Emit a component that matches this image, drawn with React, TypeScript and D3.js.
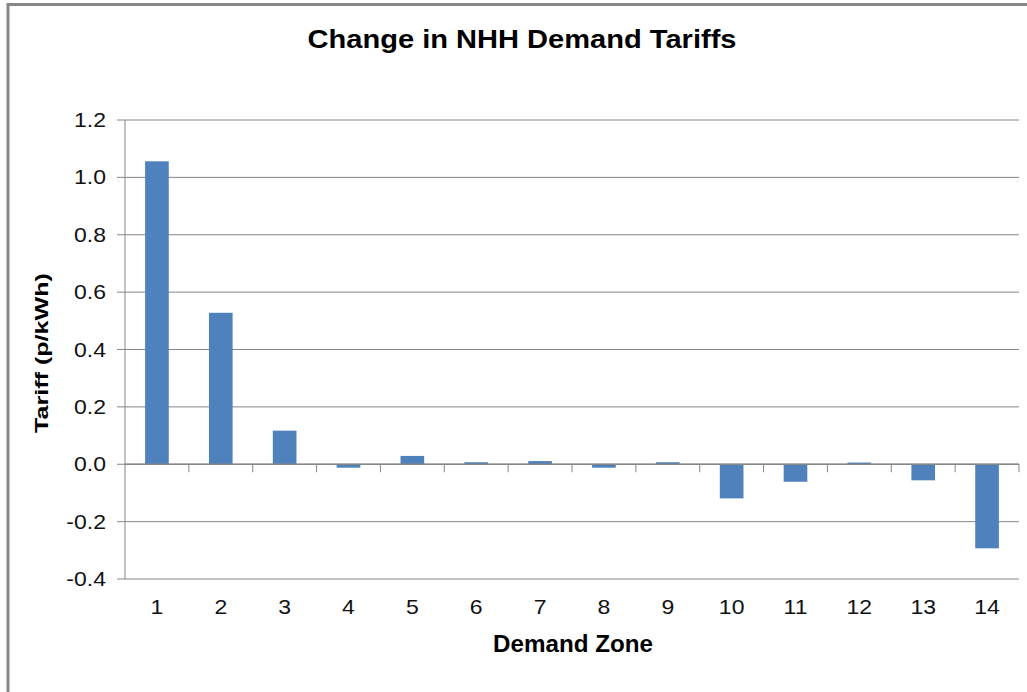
import { scaleBand, scaleLinear } from "d3";

const zones = ["1", "2", "3", "4", "5", "6", "7", "8", "9", "10", "11", "12", "13", "14"];
const tariffChange = [1.056, 0.528, 0.117, -0.012, 0.029, 0.007, 0.011, -0.012, 0.007, -0.119, -0.061, 0.006, -0.056, -0.293];
const yTicks = [-0.4, -0.2, 0.0, 0.2, 0.4, 0.6, 0.8, 1.0, 1.2];

const W = 1027;
const H = 692;
const GRID = "#868686";
const BAR = "#4F81BD";
const FONT = "'Liberation Sans', Arial, sans-serif";
const SX = 1.15; // the reference text is a little wider than plain Arial

export default function App() {
  const x = scaleBand<string>().domain(zones).range([125, 1019]);
  const y = scaleLinear().domain([-0.4, 1.2]).range([579, 120]);
  const band = x.bandwidth();
  const barW = band / 2.7;
  const y0 = y(0);

  return (
    <svg
      width={W}
      height={H}
      style={{ position: "fixed", left: 0, top: 0, background: "#fff" }}
      fontFamily={FONT}
    >
      <rect x={0} y={0} width={W} height={H} fill="#fff" />
      {/* outer chart border, only left and top show */}
      <path d={`M8,${H} L8,4.5 L${W},4.5`} fill="none" stroke="#878787" strokeWidth={3} />

      <text
        x={522}
        y={48}
        fontSize={25}
        fontWeight="bold"
        textAnchor="middle"
        textLength={429}
        lengthAdjust="spacingAndGlyphs"
      >
        Change in NHH Demand Tariffs
      </text>

      {/* gridlines */}
      {yTicks.map((t) => (
        <g key={t}>
          <line x1={117} x2={1019} y1={y(t)} y2={y(t)} stroke={GRID} strokeWidth={1} />
          <text
            transform={`translate(106,${y(t) + 7}) scale(${SX},1)`}
            fontSize={20}
            textAnchor="end"
            fill="#111"
          >
            {t.toFixed(1)}
          </text>
        </g>
      ))}
      <line x1={125} x2={125} y1={y(1.2)} y2={y(-0.4)} stroke={GRID} strokeWidth={1} />

      {/* bars */}
      {tariffChange.map((v, i) => {
        const cx = (x(zones[i]) ?? 0) + band / 2;
        return (
          <rect
            key={zones[i]}
            x={cx - barW / 2}
            y={Math.min(y(v), y0)}
            width={barW}
            height={Math.abs(y(v) - y0)}
            fill={BAR}
          />
        );
      })}

      {/* category axis at zero */}
      <line x1={125} x2={1019} y1={y0} y2={y0} stroke={GRID} strokeWidth={1.5} />
      {zones.map((z) => (
        <line
          key={"t" + z}
          x1={(x(z) ?? 0) + band}
          x2={(x(z) ?? 0) + band}
          y1={y0}
          y2={y0 + 8}
          stroke={GRID}
          strokeWidth={1}
        />
      ))}
      {zones.map((z) => (
        <text
          key={"l" + z}
          transform={`translate(${(x(z) ?? 0) + band / 2},614) scale(${SX},1)`}
          fontSize={20}
          textAnchor="middle"
          fill="#111"
        >
          {z}
        </text>
      ))}

      <text
        x={573}
        y={652}
        fontSize={24}
        fontWeight="bold"
        textAnchor="middle"
        textLength={160}
        lengthAdjust="spacingAndGlyphs"
      >
        Demand Zone
      </text>
      <text
        transform="translate(48,353) rotate(-90)"
        fontSize={18}
        fontWeight="bold"
        textAnchor="middle"
        textLength={160}
        lengthAdjust="spacingAndGlyphs"
      >
        Tariff (p/kWh)
      </text>
    </svg>
  );
}
